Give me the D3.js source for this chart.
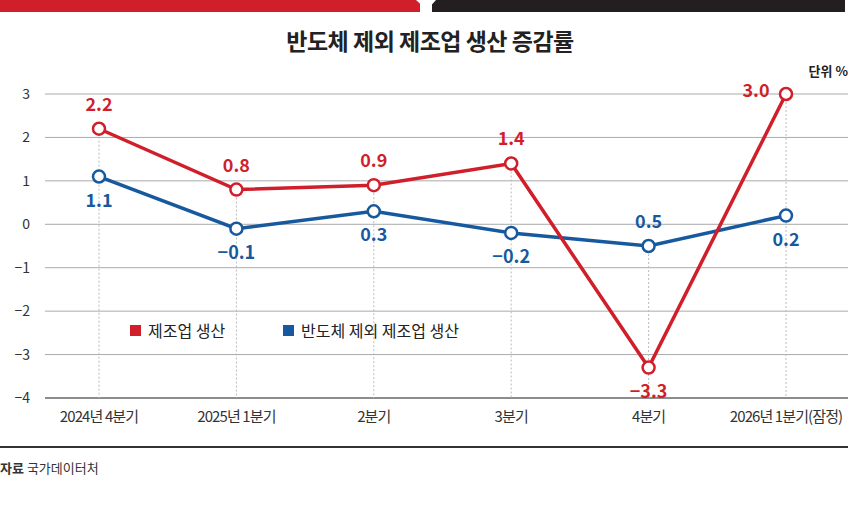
<!DOCTYPE html>
<html><head><meta charset="utf-8">
<script src="https://cdn.jsdelivr.net/npm/d3@7"></script>
<style>body{margin:0;background:#fff}text{font-family:"Noto Sans CJK KR","Noto Sans",sans-serif}</style>
</head><body><svg id="c" width="860" height="506"></svg>
<script>
var categories = ['2024년 4분기', '2025년 1분기', '2분기', '3분기', '4분기', '2026년 1분기(잠정)'];
var mfg = [2.2, 0.8, 0.9, 1.4, -3.3, 3.0];
var exSemi = [1.1, -0.1, 0.3, -0.2, -0.5, 0.2];
var exSemiLabels = ['1.1', '-0.1', '0.3', '-0.2', '0.5', '0.2'];
var yTicks = [3, 2, 1, 0, -1, -2, -3, -4];
var seriesNames = ['제조업 생산', '반도체 제외 제조업 생산'];

var red = '#d01f2b', blue = '#17599f';
var svg = d3.select('#c');

// top band
svg.append('rect').attr('x', 0).attr('y', 0).attr('width', 420).attr('height', 12).attr('fill', red);
svg.append('path').attr('d', 'M432,0 L845,0 L845,12 L432,12 Z').attr('fill', '#231f20');
svg.append('path').attr('d', 'M416,0 L436,0 L427,10 Z').attr('fill', '#fff');

svg.append('text').attr('x', 430).attr('y', 50).attr('text-anchor', 'middle')
  .attr('font-size', 23).attr('font-weight', 700).attr('fill', '#222').attr('letter-spacing', -0.5).text('반도체 제외 제조업 생산 증감률');
svg.append('text').attr('x', 848).attr('y', 76).attr('text-anchor', 'end')
  .attr('font-size', 13).attr('font-weight', 700).attr('fill', '#222').text('단위 %');

var x = d3.scalePoint().domain(categories).range([99, 786]);
var y = d3.scaleLinear().domain([-4, 3]).range([398, 94]);

svg.append('g').selectAll('line').data(yTicks).join('line')
  .attr('x1', 45).attr('x2', 848).attr('y1', function(d) { return y(d); }).attr('y2', function(d) { return y(d); })
  .attr('stroke', function(d) { return d === -4 ? '#666' : '#aaa'; }).attr('stroke-width', function(d) { return d === -4 ? 1.5 : 1; });
svg.append('g').selectAll('text').data(yTicks).join('text')
  .attr('x', 30).attr('y', function(d) { return y(d) + 5; }).attr('text-anchor', 'end')
  .attr('font-size', 14).attr('fill', '#333').text(function(d) { return d < 0 ? '−' + (-d) : d; });

// vertical dotted guides
svg.append('g').selectAll('line').data(categories).join('line')
  .attr('x1', function(d) { return x(d); }).attr('x2', function(d) { return x(d); })
  .attr('y1', function(d, i) { return y(Math.max(mfg[i], exSemi[i])); }).attr('y2', y(-4))
  .attr('stroke', '#bbb').attr('stroke-dasharray', '2,2');

svg.append('g').selectAll('text').data(categories).join('text')
  .attr('x', function(d) { return x(d); }).attr('y', 422).attr('text-anchor', 'middle')
  .attr('font-size', 15).attr('fill', '#333').attr('letter-spacing', -0.9).text(function(d) { return d; });

var line = d3.line().x(function(d, i) { return x(categories[i]); }).y(function(d) { return y(d); });

function drawSeries(vals, color) {
  svg.append('path').datum(vals).attr('d', line).attr('fill', 'none').attr('stroke', color).attr('stroke-width', 3.5);
  svg.append('g').selectAll('circle').data(vals).join('circle')
    .attr('cx', function(d, i) { return x(categories[i]); }).attr('cy', function(d) { return y(d); })
    .attr('r', 6).attr('fill', '#fff').attr('stroke', color).attr('stroke-width', 2.5);
}
drawSeries(exSemi, blue);
drawSeries(mfg, red);

var mfgDy = [-18, -18, -18, -18, 30, 0];
var mfgDx = [0, 0, 0, 0, 0, -30];
svg.append('g').selectAll('text').data(mfg).join('text')
  .attr('x', function(d, i) { return x(categories[i]) + mfgDx[i]; })
  .attr('y', function(d, i) { return y(d) + mfgDy[i] + (i === 5 ? 3 : 0); })
  .attr('text-anchor', 'middle').attr('font-size', 18).attr('font-weight', 700).attr('fill', red)
  .text(function(d) { return d < 0 ? '−' + (-d).toFixed(1) : d.toFixed(1); });

var exDy = [30, 30, 30, 30, -18, 30];
svg.append('g').selectAll('text').data(exSemiLabels).join('text')
  .attr('x', function(d, i) { return x(categories[i]); })
  .attr('y', function(d, i) { return y(exSemi[i]) + exDy[i]; })
  .attr('text-anchor', 'middle').attr('font-size', 18).attr('font-weight', 700).attr('fill', blue)
  .text(function(d) { return d.replace('-', '−'); });

// legend
var lg = svg.append('g').selectAll('g').data(seriesNames).join('g')
  .attr('transform', function(d, i) { return 'translate(' + (130 + i * 153) + ',325)'; });
lg.append('rect').attr('width', 11).attr('height', 11).attr('fill', function(d, i) { return i ? blue : red; });
lg.append('text').attr('x', 18).attr('y', 12).attr('font-size', 16).attr('fill', '#222').text(function(d) { return d; });

svg.append('line').attr('x1', 0).attr('x2', 848).attr('y1', 447).attr('y2', 447).attr('stroke', '#333').attr('stroke-width', 2);
var src = svg.append('text').attr('x', 0).attr('y', 473).attr('font-size', 13).attr('fill', '#333');
src.append('tspan').attr('font-weight', 700).text('자료 ');
src.append('tspan').text('국가데이터처');
</script></body></html>
